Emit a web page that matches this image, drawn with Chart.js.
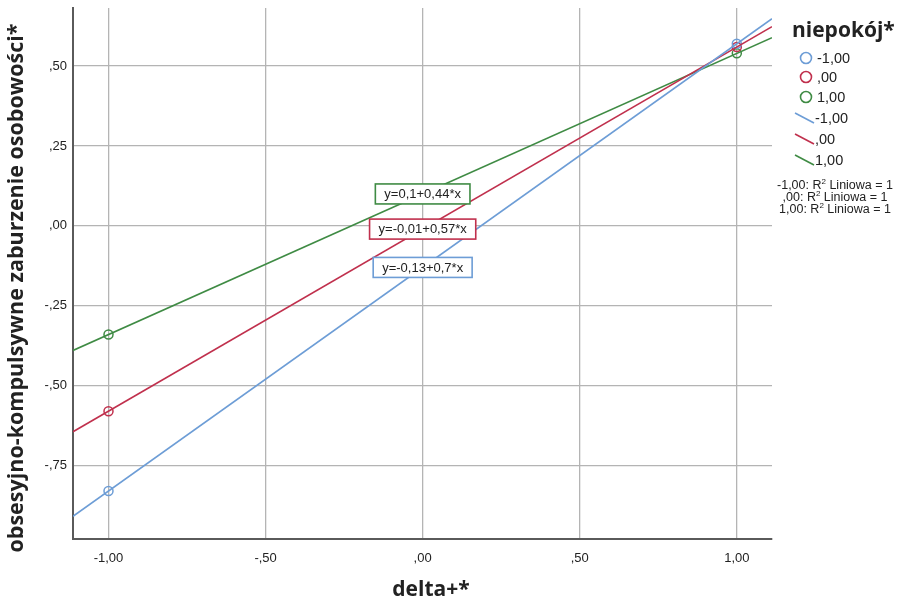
<!DOCTYPE html>
<html>
<head>
<meta charset="utf-8">
<script src="https://cdn.jsdelivr.net/npm/chart.js@4.4.1/dist/chart.umd.min.js"></script>
<style>
  body { margin: 0; background: #fff; }
  #wrap { width: 901px; height: 606px; position: relative; }
</style>
</head>
<body>
<div id="wrap"><canvas id="fitChart"></canvas></div>
<script>
// values
const groups = ['-1,00', ',00', '1,00'];
const colors = ['#6d9dd6', '#c0304d', '#3f8b44'];
const pointX = [-1, 1];
const bluePoints = [-0.83, 0.57];
const redPoints = [-0.58, 0.56];
const greenPoints = [-0.34, 0.54];
const intercepts = [-0.13, -0.01, 0.1];
const slopes = [0.7, 0.57, 0.44];
const equations = ['y=-0,13+0,7*x', 'y=-0,01+0,57*x', 'y=0,1+0,44*x'];
const xTicks = [-1, -0.5, 0, 0.5, 1];
const xTickLabels = ['-1,00', '-,50', ',00', ',50', '1,00'];
const yTicks = [-0.75, -0.5, -0.25, 0, 0.25, 0.5];
const yTickLabels = ['-,75', '-,50', '-,25', ',00', ',25', ',50'];
const xMin = -1.113, xMax = 1.112;
const yMin = -0.98, yMax = 0.682;

const pointSets = [bluePoints, redPoints, greenPoints];

const datasets = [];
// fit lines, from the equations, across the whole axis
groups.forEach((g, i) => {
  datasets.push({
    type: 'line',
    label: g + ' fit',
    data: [
      { x: xMin, y: intercepts[i] + slopes[i] * xMin },
      { x: xMax, y: intercepts[i] + slopes[i] * xMax }
    ],
    borderColor: colors[i],
    borderWidth: 1.6,
    pointRadius: 0,
    fill: false
  });
});
groups.forEach((g, i) => {
  datasets.push({
    type: 'scatter',
    label: g,
    data: pointX.map((x, k) => ({ x: x, y: pointSets[i][k] })),
    borderColor: colors[i],
    backgroundColor: 'rgba(0,0,0,0)',
    borderWidth: 1.5,
    pointRadius: 4.5
  });
});

const extras = {
  id: 'extras',
  afterDatasetsDraw(chart) {
    const ctx = chart.ctx;
    const xs = chart.scales.x, ys = chart.scales.y;
    ctx.save();
    ctx.font = '13px "Liberation Sans", Arial, sans-serif';
    ctx.textAlign = 'center';
    ctx.textBaseline = 'middle';
    groups.forEach((g, i) => {
      const cx = xs.getPixelForValue(0);
      const cy = ys.getPixelForValue(intercepts[i]);
      const w = ctx.measureText(equations[i]).width + 18;
      const h = 20;
      ctx.fillStyle = '#fff';
      ctx.fillRect(cx - w / 2, cy - h / 2, w, h);
      ctx.strokeStyle = colors[i];
      ctx.lineWidth = 1.6;
      ctx.strokeRect(cx - w / 2, cy - h / 2, w, h);
      ctx.fillStyle = '#222';
      ctx.fillText(equations[i], cx, cy + 0.5);
    });
    ctx.restore();
  },
  afterDraw(chart) {
    const ctx = chart.ctx;
    ctx.save();
    ctx.fillStyle = '#222';
    // axis titles
    ctx.font = 'bold 21px "Open Sans", sans-serif';
    ctx.textAlign = 'center';
    ctx.textBaseline = 'middle';
    ctx.fillText('delta+*', 431, 590);
    ctx.translate(17, 288);
    ctx.rotate(-Math.PI / 2);
    ctx.font = 'bold 21.5px "Open Sans", sans-serif';
    ctx.fillText('obsesyjno-kompulsywne zaburzenie osobowości*', 0, 0);
    ctx.setTransform(1, 0, 0, 1, 0, 0);

    // legend
    ctx.textAlign = 'left';
    ctx.font = 'bold 21px "Open Sans", sans-serif';
    ctx.fillText('niepokój*', 792, 31);
    ctx.font = '14.5px "Liberation Sans", Arial, sans-serif';
    const circY = [58, 77, 97];
    const lineY = [118, 139, 160];
    groups.forEach((g, i) => {
      ctx.strokeStyle = colors[i];
      ctx.lineWidth = 1.6;
      ctx.beginPath();
      ctx.arc(806, circY[i], 5.5, 0, Math.PI * 2);
      ctx.stroke();
      ctx.fillStyle = '#222';
      ctx.fillText(g, 817, circY[i] + 1);
      ctx.beginPath();
      ctx.moveTo(795, lineY[i] - 5);
      ctx.lineTo(814, lineY[i] + 5);
      ctx.stroke();
      ctx.fillText(g, 815, lineY[i] + 1);
    });
    // R² notes
    const noteY = [186, 198, 210];
    groups.forEach((g, i) => {
      const a = g + ': R', b = ' Liniowa = 1';
      ctx.font = '12.5px "Liberation Sans", Arial, sans-serif';
      const wa = ctx.measureText(a).width;
      const wb = ctx.measureText(b).width;
      ctx.font = '8px "Liberation Sans", Arial, sans-serif';
      const ws = ctx.measureText('2').width;
      const left = 835 - (wa + ws + wb) / 2;
      ctx.fillText('2', left + wa, noteY[i] - 4);
      ctx.font = '12.5px "Liberation Sans", Arial, sans-serif';
      ctx.fillText(a, left, noteY[i]);
      ctx.fillText(b, left + wa + ws, noteY[i]);
    });
    ctx.restore();
  }
};

const chartEl = document.getElementById('fitChart');

new Chart(chartEl, {
  data: { datasets: datasets },
  options: {
    responsive: true,
    maintainAspectRatio: false,
    animation: false,
    layout: { padding: { left: 0, right: 129, top: 8, bottom: 0 } },
    plugins: {
      legend: { display: false },
      tooltip: { enabled: false }
    },
    scales: {
      x: {
        type: 'linear',
        min: xMin,
        max: xMax,
        afterBuildTicks: (scale) => { scale.ticks = xTicks.map(v => ({ value: v })); },
        afterFit: (scale) => {
          scale.height = 67;
          scale.paddingLeft = 0;
          scale.paddingRight = 0;
        },
        ticks: {
          padding: 12,
          color: '#222',
          font: { family: '"Liberation Sans", Arial, sans-serif', size: 13 },
          maxRotation: 0,
          callback: (v) => xTickLabels[xTicks.indexOf(v)]
        },
        grid: { color: '#b4b4b4', lineWidth: 1.3, drawTicks: false },
        border: { display: true, color: '#5a5a5a', width: 2 }
      },
      y: {
        type: 'linear',
        min: yMin,
        max: yMax,
        afterBuildTicks: (scale) => { scale.ticks = yTicks.map(v => ({ value: v })); },
        afterFit: (scale) => {
          scale.width = 73;
          scale.paddingTop = 0;
          scale.paddingBottom = 0;
        },
        ticks: {
          padding: 6,
          color: '#222',
          font: { family: '"Liberation Sans", Arial, sans-serif', size: 13 },
          callback: (v) => yTickLabels[yTicks.indexOf(v)]
        },
        grid: { color: '#b4b4b4', lineWidth: 1.3, drawTicks: false },
        border: { display: true, color: '#5a5a5a', width: 2 }
      }
    }
  },
  plugins: [extras]
});
</script>
</body>
</html>
